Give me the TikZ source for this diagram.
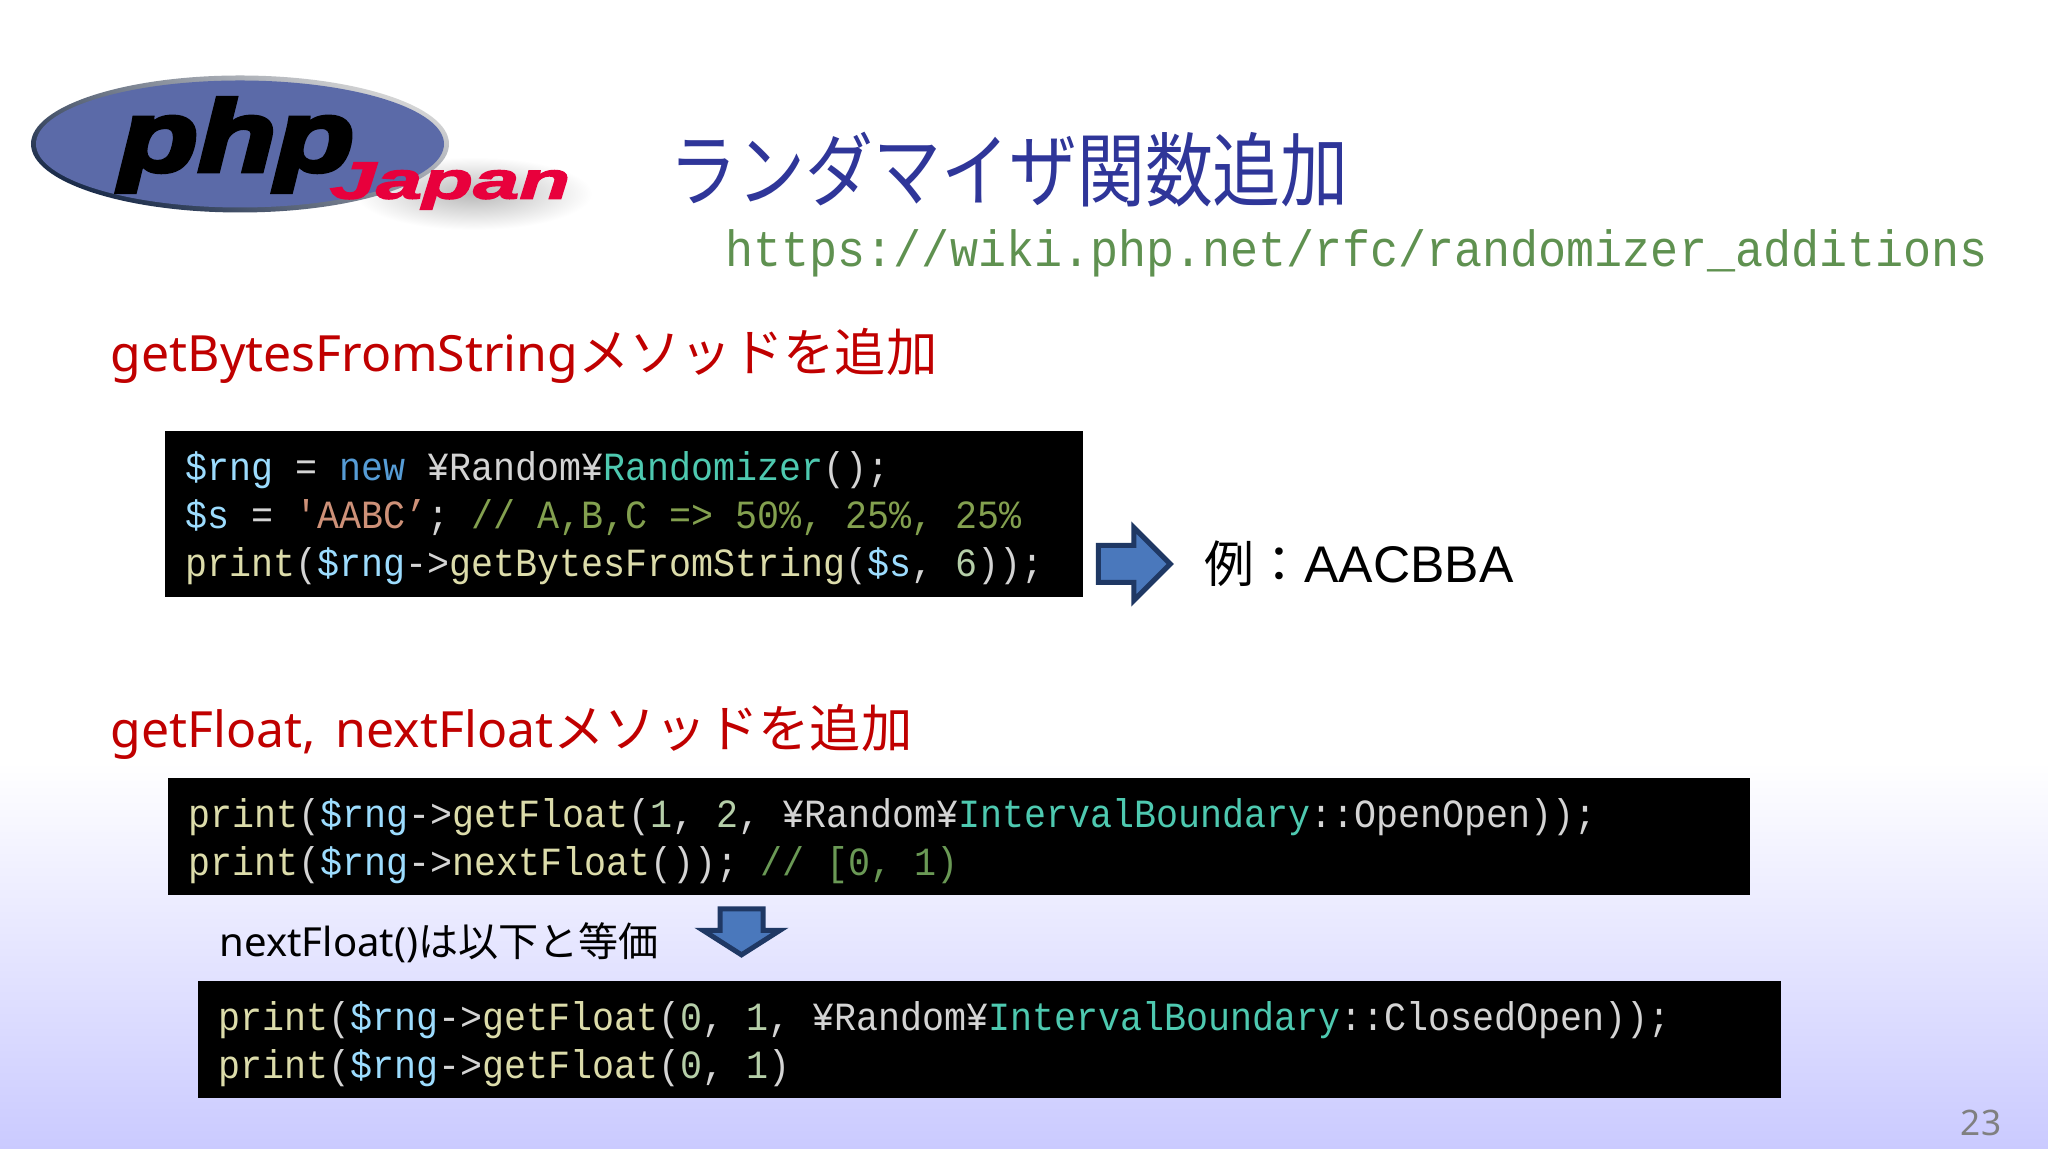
\documentclass[tikz,border=0pt]{standalone}
\usepackage{fontspec}
\usepackage{xcolor}
\setmainfont{Noto Sans}
\newfontfamily\jpfont{Noto Sans CJK JP}
\newfontfamily\titlefont[FakeStretch=0.84]{Noto Sans CJK JP}
\newfontfamily\codefont[FakeStretch=0.917]{Liberation Mono}
\newfontfamily\arialfont{Liberation Sans}
\newfontfamily\phpfont[FakeStretch=1.28,FakeBold=5]{Liberation Sans Bold Italic}
\newfontfamily\japanfont[FakeStretch=1.6,FakeBold=3]{Liberation Sans Bold Italic}
\usetikzlibrary{shapes.geometric,shapes.arrows}
\definecolor{titleblue}{HTML}{2F3699}
\definecolor{urlgreen}{HTML}{5F9150}
\definecolor{headred}{HTML}{C00000}
\definecolor{arrowfill}{HTML}{4A78BC}
\definecolor{arrowline}{HTML}{1F3864}
\definecolor{pagebottom}{HTML}{CACAFF}
\definecolor{logofill}{HTML}{5B6AA8}
\definecolor{logored}{HTML}{E8003C}
\definecolor{codevar}{HTML}{9CDCFE}
\definecolor{codekey}{HTML}{569CD6}
\definecolor{codetype}{HTML}{4EC9B0}
\definecolor{codefunc}{HTML}{DCDCAA}
\definecolor{codestr}{HTML}{CE9178}
\definecolor{codenote}{HTML}{83A04F}
\definecolor{codecom}{HTML}{6A9955}
\definecolor{codenum}{HTML}{B5CEA8}
\definecolor{codetext}{HTML}{D4D4D4}
\newcommand{\cv}[1]{\textcolor{codevar}{#1}}
\newcommand{\cf}[1]{\textcolor{codefunc}{#1}}
\newcommand{\ct}[1]{\textcolor{codetype}{#1}}
\newcommand{\cn}[1]{\textcolor{codenum}{#1}}
\newcommand{\jpbig}[1]{{\fontsize{14.6}{17}\selectfont\jpfont #1}}
\begin{document}
\begin{tikzpicture}[
codebox/.style={fill=black, text=codetext, anchor=center, align=left, inner xsep=0.2cm, inner ysep=0pt, outer sep=0pt, font=\fontsize{11.38}{13.66}\selectfont\codefont, execute at begin node={\spaceskip=0.22cm\xspaceskip=0.22cm\rule{0pt}{10.8pt}}},
headline/.style={anchor=west, inner sep=0pt, text=headred, font=\fontsize{14.2}{17}\selectfont},
bigarrow/.style={single arrow, draw=arrowline, fill=arrowfill, line width=0.05cm, inner xsep=0pt, outer sep=0pt},
]
\useasboundingbox (0,0) rectangle (20.48,11.52);
%Background
\fill[white] (0,0) rectangle (20.48,11.52);
\shade[top color=white, bottom color=pagebottom] (0,0.03) rectangle (20.48,3.9);
%Logo
\shade[inner color=gray!55, outer color=white] (3.55,9.22) rectangle (5.92,9.95);
\node[ellipse, minimum width=4.18cm, minimum height=1.37cm, inner sep=0pt, shading=axis, left color=gray!30, right color=arrowline!70!black, shading angle=-25] at (2.40,10.08) (logorim) {};
\node[ellipse, fill=logofill, minimum width=4.08cm, minimum height=1.27cm, inner sep=0pt] at (2.40,10.08) (logoback) {};
\node[inner sep=0pt, font=\fontsize{28.4}{30}\selectfont\phpfont] at (2.37,10.07) (phptext) {php};
\node[inner sep=0pt, text=logored, font=\fontsize{14.8}{16}\selectfont\japanfont] at (4.50,9.66) (japantext) {Japan};
%Title
\node[anchor=west, inner sep=0pt, text=titleblue, font=\fontsize{23}{26}\selectfont\titlefont] at (6.69,9.82) (title) {ランダマイザ関数追加};
\node[anchor=west, inner sep=0pt, text=urlgreen, font=\fontsize{14.5}{17}\selectfont\codefont] at (7.25,8.985) (url) {https://wiki.php.net/rfc/randomizer\_additions};
%First part
\node[headline] at (1.10,7.965) (head1) {getBytesFromString\jpbig{メソッドを追加}};
\node[codebox, minimum width=9.18cm, text width=8.78cm, minimum height=1.66cm] at (6.24,6.38) (code1) {\cv{\$rng} = \textcolor{codekey}{new} ¥Random¥\ct{Randomizer}();\\\cv{\$s} = \textcolor{codestr}{'AABC’}; \textcolor{codenote}{// A,B,C => 50\%, 25\%, 25\%}\\\cf{print}(\cv{\$rng}->\cf{getBytesFromString}(\cv{\$s}, \cn{6}));};
\node[bigarrow, inner ysep=0.16cm, minimum height=0.72cm, single arrow head extend=0.18cm] at (11.25,5.88) (arrow1) {};
\node[anchor=west, inner sep=0pt, font=\fontsize{14.66}{17}\selectfont\arialfont] at (12.04,5.88) (example) {{\fontsize{14.2}{17}\selectfont\jpfont 例：}AACBBA};
%Second part
\node[headline] at (1.10,4.205) (head2) {getFloat,\hspace{0.07cm} nextFloat\jpbig{メソッドを追加}};
\node[codebox, minimum width=15.82cm, text width=15.42cm, minimum height=1.17cm] at (9.59,3.155) (code2) {\cf{print}(\cv{\$rng}->\cf{getFloat}(\cn{1}, \cn{2}, ¥Random¥\ct{IntervalBoundary}::OpenOpen));\\\cf{print}(\cv{\$rng}->\cf{nextFloat}()); \textcolor{codecom}{// [0, 1)}};
\node[anchor=west, inner sep=0pt, font=\fontsize{11.4}{14}\selectfont] at (2.19,2.095) (same) {nextFloat(){\jpfont は以下と等価}};
\node[bigarrow, rotate=-90, inner ysep=0.19cm, minimum height=0.46cm, single arrow head extend=0.17cm, single arrow tip angle=115] at (7.415,2.27) (arrow2) {};
\node[codebox, minimum width=15.83cm, text width=15.43cm, minimum height=1.17cm] at (9.895,1.125) (code3) {\cf{print}(\cv{\$rng}->\cf{getFloat}(\cn{0}, \cn{1}, ¥Random¥\ct{IntervalBoundary}::ClosedOpen));\\\cf{print}(\cv{\$rng}->\cf{getFloat}(\cn{0}, \cn{1})};
%Page number
\node[inner sep=0pt, text=gray, font=\fontsize{10}{12}\selectfont] at (19.81,0.29) (pagenum) {23};
\end{tikzpicture}
\end{document}
